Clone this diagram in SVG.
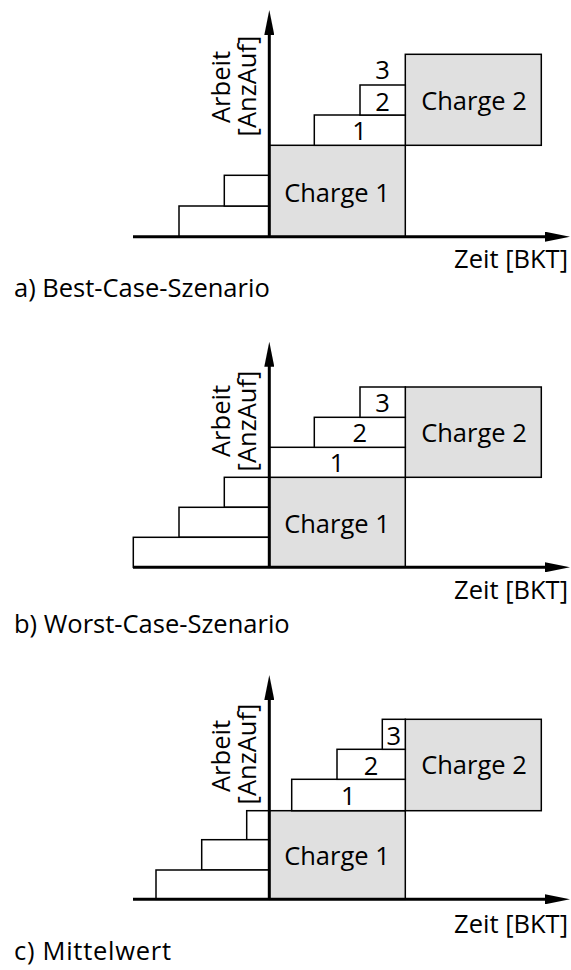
<svg xmlns="http://www.w3.org/2000/svg" width="571" height="970" viewBox="0 0 571 970">
<style>
text{font-family:"Open Sans","Noto Sans","Liberation Sans",sans-serif;font-size:25.5px;fill:#000}
.c{text-anchor:middle}
.e{text-anchor:end}
.w{fill:#fff;stroke:#000;stroke-width:1.5}
.g{fill:#e0e0e0;stroke:#000;stroke-width:1.5}
.ax{stroke:#000;stroke-width:3;fill:none;marker-end:url(#ah)}
</style>
<defs>
<marker id="ah" markerUnits="userSpaceOnUse" viewBox="0 0 25 10" markerWidth="25" markerHeight="10" refX="5" refY="5" orient="auto">
<path d="M0,0 L25,5 L0,10 z" fill="#000"/>
</marker>
</defs>

<!-- Panel a -->
<g id="a-charge1"><rect class="g" x="269.3" y="145.3" width="136" height="91.4"/><text class="c" x="337" y="201.5">Charge 1</text></g>
<g id="a-charge2"><rect class="g" x="405.3" y="54.3" width="136" height="91"/><text class="c" x="474" y="110">Charge 2</text></g>
<g id="a-l1"><rect class="w" x="179" y="206" width="90.3" height="30.7"/></g>
<g id="a-l2"><rect class="w" x="224.3" y="175.3" width="45" height="30.7"/></g>
<g id="a-b1"><rect class="w" x="314.3" y="115" width="91" height="30.3"/><text class="c" x="359.5" y="140">1</text></g>
<g id="a-b2"><rect class="w" x="360" y="85" width="45.3" height="30"/><text class="c" x="382.5" y="111">2</text></g>
<g id="a-b3"><text class="c" x="382.5" y="79">3</text></g>
<g id="a-ylabel"><text class="c" transform="translate(230,87) rotate(-90)">Arbeit</text><text class="c" transform="translate(256,86) rotate(-90)">[AnzAuf]</text></g>
<g id="a-xlabel"><text class="e" x="568" y="267.7">Zeit [BKT]</text></g>
<g id="a-caption"><text x="14" y="297">a) Best-Case-Szenario</text></g>

<!-- Panel b -->
<g id="b-charge1"><rect class="g" x="269.3" y="477.3" width="136" height="90"/><text class="c" x="337" y="532.5">Charge 1</text></g>
<g id="b-charge2"><rect class="g" x="405.3" y="387" width="136" height="90.3"/><text class="c" x="474" y="441.7">Charge 2</text></g>
<g id="b-b1"><rect class="w" x="269.3" y="447.3" width="136" height="30"/><text class="c" x="337" y="472">1</text></g>
<g id="b-b2"><rect class="w" x="314.3" y="417.3" width="91" height="30"/><text class="c" x="359.7" y="442.3">2</text></g>
<g id="b-b3"><rect class="w" x="360" y="387" width="45.3" height="30.3"/><text class="c" x="382.5" y="412.3">3</text></g>
<g id="b-l1"><rect class="w" x="224.3" y="477.3" width="45" height="30"/></g>
<g id="b-l2"><rect class="w" x="179" y="507.3" width="90.3" height="30"/></g>
<g id="b-l3"><rect class="w" x="133.3" y="537.3" width="136" height="30"/></g>
<g id="b-ylabel"><text class="c" transform="translate(230,421) rotate(-90)">Arbeit</text><text class="c" transform="translate(256,421) rotate(-90)">[AnzAuf]</text></g>
<g id="b-xlabel"><text class="e" x="568" y="599">Zeit [BKT]</text></g>
<g id="b-caption"><text x="14" y="633">b) Worst-Case-Szenario</text></g>

<!-- Panel c -->
<g id="c-charge1"><rect class="g" x="269.3" y="810.7" width="136" height="88.6"/><text class="c" x="337" y="865">Charge 1</text></g>
<g id="c-charge2"><rect class="g" x="405.3" y="719.3" width="136" height="91.4"/><text class="c" x="474" y="774">Charge 2</text></g>
<g id="c-b1"><rect class="w" x="291.7" y="779.3" width="113.6" height="31.4"/><text class="c" x="348.3" y="805">1</text></g>
<g id="c-b2"><rect class="w" x="337" y="749.3" width="68.3" height="30"/><text class="c" x="371" y="775">2</text></g>
<g id="c-b3"><rect class="w" x="382.3" y="719.3" width="23" height="30"/><text class="c" x="393.8" y="745">3</text></g>
<g id="c-l1"><rect class="w" x="246.7" y="810.7" width="22.6" height="29"/></g>
<g id="c-l2"><rect class="w" x="201.7" y="839.7" width="67.6" height="30.3"/></g>
<g id="c-l3"><rect class="w" x="156" y="870" width="113.3" height="29.3"/></g>
<g id="c-ylabel"><text class="c" transform="translate(230,756) rotate(-90)">Arbeit</text><text class="c" transform="translate(256,754) rotate(-90)">[AnzAuf]</text></g>
<g id="c-xlabel"><text class="e" x="568" y="933">Zeit [BKT]</text></g>
<g id="c-caption"><text x="14" y="960" textLength="157">c) Mittelwert</text></g>

<!-- Axes -->
<g id="connectors">
<line class="ax" x1="133" y1="236.7" x2="550" y2="236.7"/>
<line class="ax" x1="269.3" y1="236.7" x2="269.3" y2="30"/>
<line class="ax" x1="133" y1="567.3" x2="550" y2="567.3"/>
<line class="ax" x1="269.3" y1="567.3" x2="269.3" y2="361.7"/>
<line class="ax" x1="133" y1="899.3" x2="550" y2="899.3"/>
<line class="ax" x1="269.3" y1="899.3" x2="269.3" y2="695"/>
</g>
</svg>
